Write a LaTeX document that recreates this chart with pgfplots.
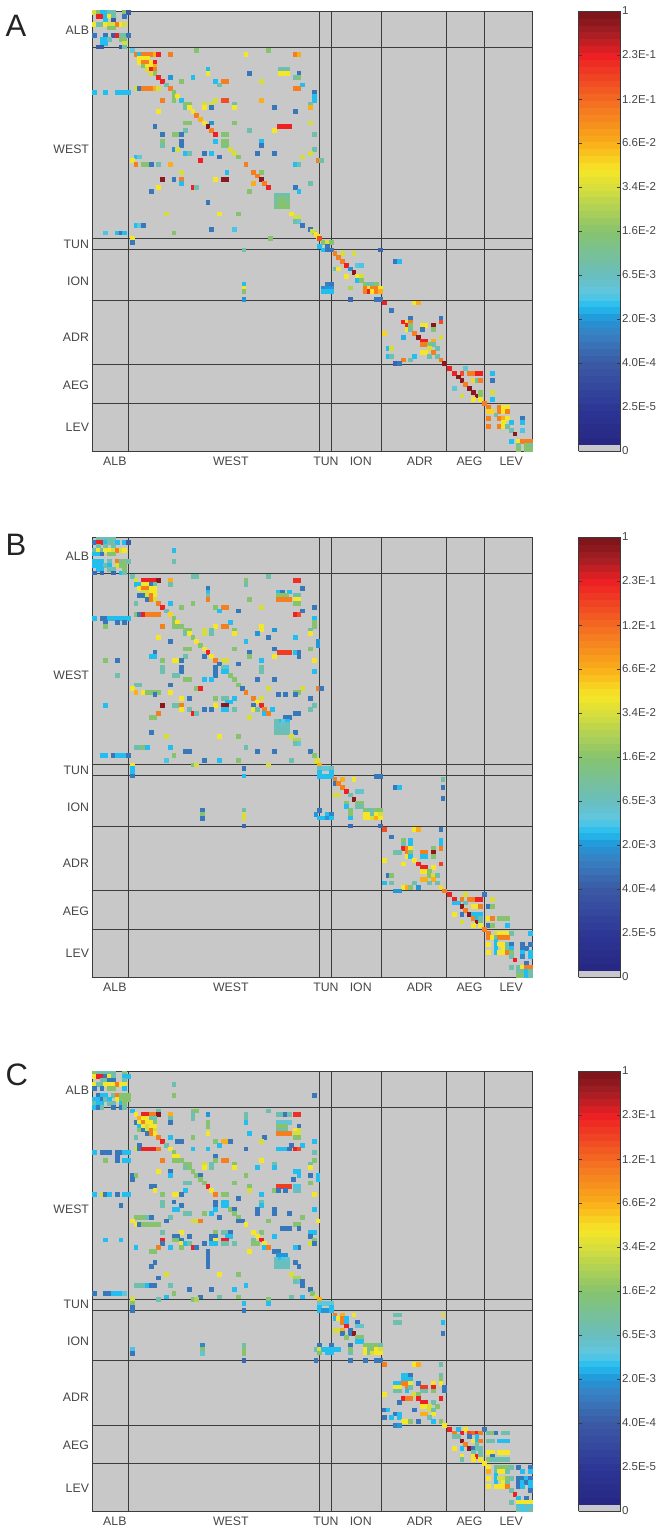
\documentclass[border=0pt]{standalone}
\usepackage{fontspec}
\setmainfont{Liberation Sans}
\usepackage{pgfplots}
\pgfplotsset{compat=1.18}
\usepackage{pgfplotstable}
\definecolor{txt}{RGB}{70,70,70}
\definecolor{bgg}{RGB}{200,200,200}
\definecolor{sep}{RGB}{60,60,60}
\pgfplotsset{
 colormap={basejet}{
  rgb255(0pt)=(200,200,204)
  rgb255(9pt)=(200,200,204)
  rgb255(10pt)=(38,38,130)
  rgb255(63pt)=(45,55,150)
  rgb255(126pt)=(60,90,165)
  rgb255(170pt)=(55,130,195)
  rgb255(189pt)=(35,150,215)
  rgb255(208pt)=(35,190,240)
  rgb255(227pt)=(95,200,225)
  rgb255(252pt)=(105,190,190)
  rgb255(315pt)=(135,195,110)
  rgb255(378pt)=(215,222,60)
  rgb255(403pt)=(245,230,40)
  rgb255(441pt)=(250,175,25)
  rgb255(504pt)=(243,105,34)
  rgb255(567pt)=(237,32,36)
  rgb255(598pt)=(165,30,35)
  rgb255(630pt)=(120,20,25)
 },
 panel/.style={
  scale only axis, width=439.5pt, height=440pt,
  anchor=north west,
  xmin=-0.5, xmax=115.5, ymin=-0.5, ymax=115.5, y dir=reverse,
  axis background/.style={fill=bgg},
  axis on top,
  axis line style={draw=sep, line width=0.9pt},
  colormap name=basejet,
  point meta min=0, point meta max=10,
  xtick={5.4,36,61.1,70.3,85.9,99,110},
  xticklabels={ALB,WEST,TUN,ION,ADR,AEG,LEV},
  ytick={4.5,35.9,61,70.7,85.5,98.1,109.2},
  yticklabels={ALB,WEST,TUN,ION,ADR,AEG,LEV},
  major tick length=0pt,
  tick label style={font=\fontsize{12.3}{14}\selectfont, text=txt},
  xticklabel style={yshift=-2pt},
  extra x ticks={9.1,59.5,62.45,75.8,92.8,102.9},
  extra y ticks={9.1,59.5,62.45,75.7,92.8,102.85},
  extra x tick labels={}, extra y tick labels={},
  extra tick style={grid=major, major grid style={draw=sep, line width=0.9pt}, major tick length=0pt},
  colorbar sampled,
  colorbar style={
   samples=65,
   at={(parent axis.north east)}, anchor=north west, xshift=38pt,
   width=42pt, height=440pt,
   ytick={0,1,2,3,4,5,6,7,8,9,10},
   yticklabels={0,2.5E-5,4.0E-4,2.0E-3,6.5E-3,1.6E-2,3.4E-2,6.6E-2,1.2E-1,2.3E-1,1},
   major tick length=3.5pt, tick align=inside, ytick pos=both, yticklabel pos=right,
   tick style={draw=sep, line width=0.5pt},
   axis line style={draw=sep, line width=0.9pt},
   tick label style={font=\fontsize{11.5}{13}\selectfont, text=txt},
   yticklabel style={xshift=-2pt},
  },
 },
 matcells/.style={scatter, only marks, mark=square*, mark size=1.9pt, point meta=\thisrow{c},
  scatter/use mapped color={draw=mapped color, fill=mapped color},
  mark options={line width=0pt}},
}
\begin{document}
\begin{tikzpicture}
\useasboundingbox (0pt,0pt) rectangle (664pt,-1533pt);
\node[anchor=base west,font=\fontsize{31}{31}\selectfont,text={rgb,255:red,35;green,35;blue,35}] at (2pt,-37pt) {A};
\node[anchor=base west,font=\fontsize{31}{31}\selectfont,text={rgb,255:red,35;green,35;blue,35}] at (2pt,-555pt) {B};
\node[anchor=base west,font=\fontsize{31}{31}\selectfont,text={rgb,255:red,35;green,35;blue,35}] at (2pt,-1085pt) {C};

%%%%%%%%%%%%%%% A
\begin{axis}[panel, at={(92.5pt,-11pt)}]
\addplot[matcells] table[row sep=\\]{
x y c\\
0 0 6\\ 1 0 5\\ 2 0 3.3\\ 3 0 3.3\\ 4 0 4.2\\ 5 0 4.2\\ 8 0 5\\ 9 0 2\\
1 1 9\\ 2 1 9\\ 3 1 3.3\\ 4 1 6.4\\ 5 1 4.2\\ 8 1 2.5\\
3 2 3.3\\ 5 2 2\\
0 3 6.4\\ 1 3 4.2\\ 2 3 4.2\\ 3 3 6.4\\ 4 3 6\\ 5 3 6\\ 6 3 7.7\\ 7 3 6.4\\ 8 3 6\\
4 4 5\\ 5 4 5\\
0 6 2.5\\ 3 6 2.5\\ 5 6 2\\ 6 6 9\\ 7 6 4.2\\ 8 6 4.2\\ 9 6 2.5\\
2 7 3.3\\ 3 7 3.3\\ 4 7 4.2\\ 7 7 5\\ 8 7 5\\
2 8 3.3\\ 3 8 3.3\\ 8 8 6\\
1 9 2\\ 2 9 2\\ 7 9 2\\ 8 9 4.2\\
10 10 3.7\\ 27 10 5\\ 46 10 5\\
11 11 7.7\\ 12 11 3.3\\ 13 11 7.7\\ 14 11 7.7\\ 15 11 7.7\\ 16 11 7\\ 17 11 9\\ 20 11 7.7\\ 40 11 6.4\\ 53 11 7.7\\ 54 11 7\\
12 12 6.4\\ 13 12 6.4\\ 14 12 6.4\\
12 13 6.4\\ 13 13 7.7\\ 14 13 7.7\\ 15 13 6.4\\ 16 13 9\\
13 14 5\\ 14 14 6.4\\ 15 14 6.4\\ 16 14 7\\
14 15 6\\ 15 15 9\\ 16 15 7.7\\ 30 15 3.3\\ 49 15 4.2\\ 50 15 4.2\\ 51 15 4.2\\
15 16 6\\ 16 16 5\\ 30 16 6.4\\ 41 16 2.5\\ 49 16 6.4\\ 50 16 6.4\\ 51 16 6.4\\ 54 16 2.5\\
17 17 9\\ 20 17 3\\ 26 17 3.3\\ 53 17 4.2\\ 54 17 5\\
18 18 9\\ 23 18 5\\ 32 18 3.3\\ 34 18 7.7\\ 35 18 7.7\\ 44 18 6\\
19 19 4.2\\ 33 19 4.2\\ 55 19 3.3\\
11 20 6\\ 12 20 2.5\\ 13 20 7.7\\ 14 20 7.7\\ 15 20 7.7\\ 16 20 7\\ 17 20 6\\ 20 20 7.7\\ 53 20 7.7\\ 54 20 7.7\\
0 21 3.3\\ 3 21 3.3\\ 6 21 3.3\\ 7 21 3.3\\ 8 21 3.3\\ 9 21 3.3\\ 21 21 5\\ 58 21 2.5\\
21 22 5\\ 22 22 6.4\\ 58 22 3.3\\
18 23 7.7\\ 21 23 5\\ 23 23 3.3\\ 32 23 6\\ 34 23 8.4\\ 35 23 8.4\\ 44 23 7\\ 58 23 3.3\\
24 24 5\\ 25 24 5\\ 29 24 6\\ 31 24 6\\ 37 24 4.2\\ 57 24 4.2\\
24 25 4.2\\ 25 25 6.4\\ 29 25 6.4\\ 31 25 2.5\\ 37 25 6.4\\ 47.5 25 2.5\\ 57 25 7\\
17 26 6.4\\ 26 26 6.4\\ 53 26 2.5\\
27 27 7.7\\ 28 28 7\\
24 29 5\\ 25 29 5\\ 29 29 6.4\\ 31 29 3\\ 37 29 5\\ 57 29 6\\
16 30 2.5\\ 30 30 9.8\\ 48.7 30 9\\ 49.7 30 9\\ 50.7 30 9\\ 51.5 30 9\\
24 31 4.2\\ 31 31 7.7\\ 41 31 4.2\\ 47.5 31 6.4\\
18 32 2.5\\ 21 32 5\\ 22 32 5\\ 23 32 2.5\\ 32 32 9\\ 34 32 5\\ 35 32 5\\ 58 32 4.2\\
18 34 5\\ 23 34 2.5\\ 32 34 3.3\\ 34 34 5\\ 35 34 5\\ 44 34 3.3\\
18 35 4.2\\ 23 35 2.5\\ 34 35 4.8\\ 35 35 4.8\\ 44 35 2.5\\
21 36 3\\ 22 36 6\\ 36 36 6\\ 58 36 4.2\\
24 37 3.3\\ 25 37 4.2\\ 29 37 2.5\\ 31 37 3.3\\ 37 37 6\\ 43 37 2.5\\ 47.5 37 2.5\\ 57 37 6\\
11 38 3.3\\ 12 38 3.7\\ 33 38 2.5\\ 38 38 5\\ 55 38 6\\
10 39 6.4\\ 28 39 9\\ 59 39 7.7\\ 60 39 4.2\\
11 40 7.7\\ 13 40 5\\ 14 40 5\\ 15 40 2.5\\ 17 40 4.2\\ 20 40 7\\ 40 40 7.7\\ 53 40 3.3\\ 54 40 4.2\\
23 42 6\\ 35 42 3.3\\ 42 42 7.7\\ 44 42 5\\
43 43 7.7\\
18 44 9.8\\ 21 44 2.5\\ 23 44 7.7\\ 32 44 6.4\\ 34 44 9.8\\ 35 44 9.8\\ 44 44 9.8\\
23 45 3.3\\ 42 45 7\\ 45 45 7.7\\ 57 45 4.2\\
17 46 6.4\\ 26 46 9\\ 27 46 4.2\\ 46 46 9\\ 53 46 2.5\\
15 47 2.5\\ 41 47 5\\ 54 47 3.3\\
48 48 4.2\\ 49 48 4.2\\ 50 48 4.2\\ 51 48 4.2\\
48 49 4.4\\ 49 49 4.8\\ 50 49 4.8\\ 51 49 4.6\\
48 50 4.4\\ 49 50 5\\ 50 50 5\\ 51 50 4.6\\ 30 50 2.5\\
48 51 4.6\\ 49 51 5\\ 50 51 5\\ 51 51 5\\
19 53 6\\ 33 53 6.4\\ 38 53 5\\ 52 53 6.4\\
53 54 6\\ 54 54 6\\
53 55 4.2\\ 54 55 3.7\\
11 56 3.3\\ 12 56 3.7\\ 13 56 2.5\\ 55 56 2.5\\
31 57 2.5\\ 37 57 3.5\\ 57 57 2.5\\
3 58 3.5\\ 6 58 3.3\\ 7 58 2.5\\ 8 58 3.3\\ 21 58 5\\ 58 58 5.5\\
59 59 6.4\\
10 59.5 6.4\\ 46.5 59.4 5\\
10 60.5 2.5\\ 39.5 62.5 4.2\\ 39.5 71.5 3.3\\ 39.5 72.5 6.4\\ 39.5 73.5 5\\ 39.5 75.5 3\\
57.5 57.5 6\\ 58.5 58.5 6.4\\ 59.5 59.5 8.4\\
60.5 60.5 5\\ 61.5 60.5 6\\ 62.5 60.5 5\\ 59.5 61.5 3.3\\ 61.5 61.5 2.5\\ 60.5 62.5 3.3\\ 61.5 62.5 2.5\\ 62.5 62.5 2.5\\ 75.5 62.5 2.2\\
63.5 63.5 7.7\\ 65.5 63.5 6\\ 68.5 63.5 6\\ 64.5 64.5 7.7\\ 65.5 65.5 7.7\\ 79.5 65.5 2.5\\ 80.5 65.5 3.3\\
66.5 66.5 9\\ 69.5 66.5 3.7\\ 70.5 66.5 3.5\\ 63.5 67.5 4.2\\ 64.5 67.5 6.4\\ 67.5 67.5 3\\ 68.5 68.5 9.8\\
66.5 69.5 6.4\\ 69.5 69.5 6.4\\ 70.5 69.5 6\\ 69.5 70.5 3.3\\ 70.5 70.5 5\\
61.5 71.5 2.7\\ 62.5 71.5 2.5\\ 71.5 71.5 5\\ 72.5 71.5 4.2\\ 73.5 71.5 4.2\\ 74.5 71.5 5\\
60.5 72.5 2.8\\ 61.5 72.5 3\\ 62.5 72.5 3\\ 67.5 72.5 5.5\\ 71.5 72.5 7.7\\ 72.5 72.5 6.4\\ 73.5 72.5 7.7\\ 74.5 72.5 7.7\\ 75.5 72.5 6.4\\
60.5 73.5 3.3\\ 61.5 73.5 3.3\\ 62.5 73.5 3.3\\ 71.5 73.5 7.7\\ 72.5 73.5 9\\ 73.5 73.5 6.4\\ 74.5 73.5 7.7\\ 75.5 73.5 7\\
67.5 75.5 2.3\\ 74.5 75.5 2.5\\ 75.5 75.5 2.5\\ 76.5 76.5 9\\ 84.5 76.5 6.4\\ 85.5 76.5 7\\ 78.5 78.5 2.5\\
83.5 80.5 2.5\\ 91.5 80.5 2.5\\ 81.5 81.5 9\\ 82.5 81.5 6.4\\ 83.5 81.5 7.7\\ 91.5 81.5 8.4\\
82.5 82.5 9\\ 83.5 82.5 5\\ 86.5 82.5 6.4\\ 87.5 82.5 6.4\\ 89.5 82.5 9.8\\
82.5 83.5 6.4\\ 83.5 83.5 4.2\\ 86.5 83.5 2.5\\ 89.5 83.5 5\\
84.5 84.5 7.7\\ 76.5 84.5 6.6\\
81.5 85.5 3.2\\ 85.5 85.5 9.8\\ 91.5 85.5 6\\
86.5 86.5 9\\ 87.5 86.5 9\\ 89.5 86.5 7\\
86.5 87.5 7.7\\ 87.5 87.5 7.7\\ 88.5 87.5 5\\ 89.5 87.5 4.2\\
77.5 88.5 3.3\\ 78.5 88.5 6\\ 88.5 88.5 6\\ 90.5 88.5 4.2\\
86.5 89.5 6.4\\ 87.5 89.5 6.4\\ 89.5 89.5 7.7\\
77.5 90.5 3.3\\ 78.5 90.5 4.2\\ 84.5 90.5 3.3\\ 88.5 90.5 4.2\\ 90.5 90.5 4.2\\
81.5 91.5 7.7\\ 83.5 91.5 4.2\\ 91.5 91.5 7.7\\
79.5 92.5 2.2\\ 80.5 92.5 2.5\\ 92.5 92.5 9.8\\
93.7 93.7 9\\ 98 93.7 3.7\\
95 95 9\\ 97 95 8.4\\ 99 95 7.7\\ 100 95 7.7\\ 101 95 9\\ 102 95 9\\ 105 95 3.3\\
96 96 9.8\\ 97 97 9.8\\ 100 97 6.6\\ 101 97 4.2\\ 102 97 7.7\\ 105 97 2.5\\
98 98 7.7\\ 95 99 3.7\\ 99 99 9.8\\
100 100 9.8\\ 102 100 5\\ 105 100 6\\
97 101 6\\ 101 101 9.8\\ 102 101 5\\
100 102 6.4\\ 102 102 6.4\\ 105 102 3.3\\
103 103 7.7\\
104 104 7.7\\ 107 104 7.7\\ 108 104 6.4\\ 109 104 6.4\\
104 105 6.6\\ 105 105 6.6\\ 107 105 7.7\\ 108 105 6.4\\ 109 105 7.7\\
106 106 4.2\\
104 107 7.7\\ 107 107 7.7\\ 108 107 7\\ 109 107 6.4\\ 113 107 2.5\\
108 108 6.4\\ 110 108 3.3\\ 113 108 3.3\\
104 109 7.7\\ 107 109 7.7\\ 108 109 6.4\\ 109 109 4.2\\
110 110 4.2\\ 113 110 3.5\\
111 111 9.8\\
110 113 3.3\\ 112 113 6.4\\ 113 113 7.7\\ 114 113 7.7\\ 115 113 7.7\\
112 114 4.5\\ 114 114 5\\ 115 114 4.5\\
112 115 5\\ 114 115 5\\ 115 115 5\\
};
\end{axis}

%%%%%%%%%%%%%%% B
\begin{axis}[panel, at={(92.5pt,-537pt)}]
\addplot[matcells] table[row sep=\\]{
x y c\\
1 0 4.2\\ 2 0 4.2\\ 3 0 4.2\\ 4 0 4.2\\ 5 0 4.2\\
0 1 2.5\\ 1 1 9\\ 2 1 9\\ 3 1 3.3\\ 4 1 4.2\\ 5 1 4.2\\ 6 1 3.3\\ 8 1 3.3\\ 9 1 2\\
1 2 4.2\\ 3 2 4.2\\ 5 2 4.2\\
0 3 4.2\\ 1 3 6.4\\ 2 3 4.2\\ 3 3 6.4\\ 4 3 6.4\\ 5 3 6\\ 6 3 7.7\\ 7 3 6\\ 8 3 6.4\\ 21 3 3.3\\
0 4 3.3\\ 1 4 3.3\\ 2 4 2.5\\ 4 4 5\\ 5 4 5\\
0 6 3.3\\ 1 6 3.3\\ 2 6 3.3\\ 4 6 4.2\\ 6 6 7.7\\ 7 6 4.2\\ 8 6 5\\ 9 6 4.2\\ 21 6 4.2\\
0 7 3.3\\ 1 7 3.3\\ 2 7 3.3\\ 3 7 4.2\\ 4 7 3.3\\ 6 7 6\\ 7 7 5\\ 8 7 5\\
1 8 3.3\\ 2 8 3.3\\ 4 8 4.2\\ 5 8 4.2\\ 8 8 5\\
0 9 2.3\\ 2 9 2.3\\ 5 9 2.3\\ 7 9 3.3\\ 8 9 4.2\\
10 10 4.2\\ 26 10 4.2\\ 27 10 4.2\\ 46 10 4.2\\
11 11 6\\ 13 11 9\\ 14 11 9\\ 15 11 9\\ 16 11 9\\ 17 11 9.8\\ 20 11 7\\ 40 11 5\\ 53 11 8.8\\ 54 11 8.8\\
11 12 3.3\\ 12 12 3.3\\ 13 12 6.4\\ 14 12 6.4\\ 15 12 2.5\\ 16 12 4.2\\ 20 12 4.2\\ 40 12 4.2\\
12 13 6.4\\ 13 13 7.7\\ 14 13 7.7\\ 15 13 6.4\\ 16 13 6.4\\ 30 13 2.5\\ 55 13 2.5\\
13 14 6\\ 14 14 6\\ 15 14 6.4\\ 16 14 6.4\\ 30 14 3.3\\ 48.6 14 3.3\\ 49.6 14 2.5\\ 51.5 14 3.3\\
12 15 2.5\\ 13 15 2.5\\ 14 15 6\\ 15 15 7.7\\ 16 15 6.4\\ 30 15 4.2\\ 48.6 15 5\\ 49.6 15 5\\ 50.6 15 5\\ 53 15 4.2\\ 54 15 4.2\\
14 16 2.5\\ 15 16 7.7\\ 16 16 6\\ 30 16 7.7\\ 41 16 5\\ 48.6 16 7.7\\ 49.6 16 7.7\\ 50.6 16 7.7\\ 51.5 16 7.7\\ 53 16 6.4\\ 54 16 6.4\\
11 17 4.2\\ 17 17 7.7\\ 20 17 3.3\\ 26 17 5\\ 53 17 5\\ 54 17 5\\
18 18 9\\ 23 18 5\\ 32 18 5\\ 34 18 7.7\\ 35 18 7.7\\ 44 18 6\\ 58 18 2.5\\
19 19 4.2\\ 33 19 3.3\\ 38 19 2.5\\ 55 19 2.5\\
11 20 5\\ 12 20 2.5\\ 13 20 9\\ 14 20 7.7\\ 15 20 7.7\\ 16 20 7.7\\ 17 20 7.7\\ 20 20 6.6\\ 53 20 9\\ 54 20 8.4\\
0 21 3.3\\ 2 21 2.5\\ 3 21 2.5\\ 4 21 3.3\\ 5 21 3.3\\ 6 21 3.3\\ 7 21 3.3\\ 8 21 3.3\\ 9 21 3.3\\ 21 21 5\\ 58 21 3.3\\
3 22 2.5\\ 6 22 2.5\\ 8 22 2.5\\ 21 22 5\\ 22 22 6.4\\ 36 22 3.3\\ 58 22 5\\
3 23 5\\ 18 23 7.7\\ 21 23 5\\ 22 23 5\\ 23 23 5\\ 32 23 6.4\\ 34 23 7.7\\ 35 23 7.7\\ 44 23 6.4\\ 58 23 5\\
24 24 5\\ 25 24 5\\ 29 24 6\\ 31 24 4.2\\ 37 24 5\\ 44 24 6.4\\ 47.5 24 3\\ 57 24 4.2\\
24 25 4.2\\ 25 25 6.4\\ 29 25 6\\ 31 25 4.2\\ 37 25 6.4\\ 43 25 3\\ 57 25 6.4\\
17 26 6.4\\ 26 26 5\\ 46 26 2.5\\ 53 26 3.3\\
20 27 2.5\\ 27 27 6.4\\ 40 27 3.3\\ 59 27 3\\
28 28 5\\ 59 28 3\\
24 29 5\\ 25 29 5\\ 29 29 6.4\\ 37 29 5\\ 47.5 29 2.5\\ 57 29 5\\
16 30 2.5\\ 30 30 9\\ 41 30 2.5\\ 48.8 30 8.6\\ 49.8 30 8.6\\ 50.8 30 8.6\\ 51.6 30 8.6\\ 53 30 3.3\\ 54 30 2.5\\
15 31 3.3\\ 16 31 3.3\\ 24 31 4.2\\ 29 31 2.5\\ 31 31 6.4\\ 41 31 5\\ 47.5 31 6.4\\ 54 31 2.5\\
3 32 5\\ 6 32 2.5\\ 18 32 5\\ 21 32 6.4\\ 22 32 6.4\\ 23 32 2.5\\ 32 32 7.7\\ 34 32 6\\ 35 32 6\\ 44 32 3.3\\ 58 32 6.4\\
33 33 2.5\\ 38 33 2.5\\
18 34 4.2\\ 23 34 2.5\\ 32 34 2.5\\ 34 34 4.2\\ 35 34 3.5\\ 44 34 4.2\\
18 35 4.2\\ 23 35 2.5\\ 32 35 2.5\\ 34 35 3.3\\ 35 35 3.3\\ 44 35 4.2\\ 58 35 3.3\\
6 36 4.2\\ 21 36 4.2\\ 22 36 4.2\\ 32 36 2.5\\ 36 36 5\\
24 37 5\\ 25 37 5\\ 29 37 3.3\\ 31 37 3.3\\ 37 37 5\\ 43 37 2.5\\ 47.5 37 2.5\\
11 38.5 4.2\\ 12 38.5 4.2\\ 20 38.5 2.5\\ 38 38.5 5\\
10 39.5 6.4\\ 27 39.5 5\\ 28 39.5 9\\ 39 39.5 2.5\\ 46 39.5 6\\ 55 39.5 6\\ 59 39.5 7.7\\ 60 39.5 2.5\\
11 40.5 7\\ 13 40.5 6.4\\ 14 40.5 5\\ 15 40.5 5\\ 16 40.5 5\\ 17 40.5 5\\ 20 40.5 6.4\\ 40 40.5 7.7\\ 53 40.5 5\\ 54 40.5 5\\
16 41 2.5\\ 48.5 41 2.5\\ 50.5 41 2.5\\ 53 41 2.5\\
23 42 6.4\\ 25 42 2.5\\ 32 42 5\\ 34 42 4.2\\ 35 42 4.2\\ 37 42 3.3\\ 42 42 7.7\\ 44 42 6\\ 57 42 2.5\\
35 43 3.3\\ 36 43 3.3\\ 43 43 6.4\\
3 44 3.3\\ 18 44 9.8\\ 21 44 4.2\\ 22 44 4.2\\ 23 44 7.7\\ 32 44 6.4\\ 34 44 9.8\\ 35 44 9.8\\ 42 44 2.5\\ 44 44 9\\ 58 44 4.2\\
23 45 6.4\\ 25 45 4.2\\ 29 45 2.5\\ 31 45 2.5\\ 34 45 3.3\\ 35 45 3.3\\ 37 45 4.2\\ 42 45 6.4\\ 43 45 4.2\\ 45 45 7.7\\ 47 45 3.3\\ 57 45 4.2\\
17 46 7.7\\ 26 46 9\\ 27 46 4.2\\ 45 46 3.3\\ 46 46 7.7\\ 53 46 2.5\\ 54 46 2.5\\
15 47 5\\ 16 47 5\\ 41 47 6\\ 50.5 47 2.5\\ 51.5 47 2.5\\
49 48 3.3\\ 50 48 3.7\\ 51 48 3.3\\ 48 48 4.2\\
48 49 4\\ 49 49 4\\ 50 49 3.8\\ 51 49 4\\
48 50 4\\ 49 50 4\\ 50 50 4\\ 51 50 4\\
48 51 4.2\\ 49 51 4.2\\ 50 51 4.2\\ 51 51 4.2\\ 15 51 2.5\\ 53 51 2.5\\
19 52 6\\ 33 52 6.4\\ 38 52 5\\ 52 52 6\\
53 53 5.5\\ 54 53 5.5\\
53 54 4.2\\ 54 54 3.7\\
11 55 4.2\\ 12 55 4.2\\ 13 55 5\\ 14 55 3.3\\ 20 55 3.3\\ 40 55 4.2\\
24 56 2.5\\ 25 56 2.5\\ 43 56 2.5\\ 47.5 56 2.5\\ 57 56 2.5\\
2 57 3.3\\ 3 57 3.3\\ 5 57 2.5\\ 6 57 3.3\\ 7 57 3.3\\ 8 57 3.3\\ 9 57 2.5\\ 21 57 5\\ 58 57 5\\
19 58.5 3.5\\ 29 58.5 2.5\\ 33 58.5 3.3\\ 38 58.5 5\\ 52 58.5 4.2\\ 59 58.5 6\\
10 59.6 6.4\\ 26 59.6 5\\ 27 59.6 6\\ 46 59.6 6\\
10 60.6 3.3\\ 10 61.5 3.3\\ 10 62.5 2.5\\ 39.5 60.5 2.5\\ 39.5 62.5 3.3\\
28.5 71.7 2.5\\ 28.5 72.7 5\\ 28.5 73.7 2.5\\ 39.5 71.7 4.2\\ 39.5 72.7 6\\ 39.5 73.7 6\\ 39.5 75.7 2.2\\
58.5 58.6 6\\ 59.5 59.7 7\\
59.5 60.5 4\\ 60.5 60.5 3.7\\ 61.5 60.5 3.7\\ 62.5 60.5 4\\ 59.5 61.6 3.3\\ 62.5 61.6 3.3\\ 59.5 62.6 3.3\\ 60.5 62.6 3.3\\ 61.5 62.6 3.3\\ 62.5 62.6 3.3\\
74.5 62.6 2.5\\ 75.5 62.6 2.5\\
63.5 63.5 7.7\\ 65.5 63.5 7\\ 68.5 63.5 6.4\\ 92 63.5 4.2\\
63.5 64.5 2.5\\ 64.5 64.5 7.7\\ 65.5 65.5 7.7\\ 79.5 65.5 2.5\\ 80.5 65.5 3.3\\ 92 65.5 2.5\\ 92 68.5 2.5\\
66.5 66.5 9\\ 69.5 66.5 3.8\\ 70.5 66.5 3.8\\
63.5 67.5 6\\ 64.5 67.5 6\\ 67.5 67.5 4.2\\ 68.5 68.6 9.8\\
66.5 69.6 5\\ 69.5 69.6 5\\ 70.5 69.6 5\\ 66.5 70.6 3.3\\ 69.5 70.6 4.2\\ 70.5 70.6 4.2\\
59.5 71.6 2.5\\ 67.5 71.6 5\\ 71.5 71.6 5\\ 72.5 71.6 4.2\\ 73.5 71.6 4.2\\ 74.5 71.6 5\\ 75.5 71.6 5\\
58.5 72.6 3\\ 61.5 72.6 3.3\\ 62.5 72.6 2.7\\ 67.5 72.6 5\\ 71.5 72.6 6.4\\ 72.5 72.6 6.4\\ 73.5 72.6 4.2\\ 74.5 72.6 6.4\\ 75.5 72.6 6\\
59.5 73.6 3.3\\ 60.5 73.6 3.3\\ 61.5 73.6 3\\ 62.5 73.6 3.3\\ 67.5 73.6 3.3\\ 71.5 73.6 6.4\\ 72.5 73.6 6.4\\ 73.5 73.6 6\\ 74.5 73.6 7\\ 75.5 73.6 6.4\\
67.5 75.7 2.3\\ 75.5 75.7 2.3\\
76.5 76.6 8.4\\ 84.5 76.6 6.4\\ 85.5 76.6 7\\ 91.5 76.6 2.5\\ 78.5 78.6 2.5\\
81.5 79.6 5\\ 83.5 79.6 3.3\\ 91.5 79.6 3.3\\ 81.5 80.6 4.2\\ 83.5 80.6 3.3\\ 91.5 80.6 3.3\\
81.5 81.7 9\\ 82.5 81.7 7.7\\ 83.5 81.7 6.4\\ 89.5 81.7 5\\ 91.5 81.7 7.7\\
79.5 82.7 4.2\\ 80.5 82.7 4.2\\ 82.5 82.7 7.7\\ 83.5 82.7 5\\ 86.5 82.7 7.7\\ 87.5 82.7 7.7\\ 89.5 82.7 9.8\\
82.5 83.7 6.4\\ 83.5 83.7 3.3\\ 86.5 83.7 3.3\\ 87.5 83.7 3.3\\ 89.5 83.7 5\\
76.5 84.7 6.4\\ 84.5 84.7 6.4\\
81.5 85.7 6.4\\ 85.5 85.7 9\\ 91.5 85.7 8.6\\
86.5 86.7 9\\ 87.5 86.7 9\\ 89.5 86.7 6.4\\
86.5 87.7 6.4\\ 87.5 87.7 6.4\\ 88.5 87.7 5\\
77.5 88.7 2.5\\ 78.5 88.7 5\\ 88.5 88.7 5\\ 89.5 88.7 6\\ 90.5 88.7 4.2\\
86.5 89.8 7\\ 87.5 89.8 7\\ 89.5 89.8 7\\
76.5 90.7 3.3\\ 78.5 90.7 4.2\\ 84.5 90.7 4.2\\ 88.5 90.7 4.2\\ 90.5 90.7 4.2\\
81.5 91.8 6.4\\ 82.5 91.8 7\\ 83.5 91.8 5\\ 85.5 91.8 3\\ 91.5 91.8 6.5\\
79.5 92.8 3\\ 80.5 92.8 3\\ 92.5 92.8 7.7\\
93.7 93.8 9\\ 98 93.8 6\\ 103 93.8 2.5\\
95 95 9\\ 97 95 7.7\\ 99 95 7.7\\ 100 95 7.7\\ 101 95 9\\ 102 95 9\\ 105 95 6\\
95 96 3.3\\ 96 96 3.3\\ 98 96 4.2\\
97 97 9.8\\ 100 97 6.4\\ 101 97 6.4\\ 102 97 7.7\\ 104 97 2.5\\ 105 97 5\\
98 98 7.7\\
95 99 6.4\\ 97 99 2.5\\ 99 99 9.8\\ 100 99 3.3\\ 101 99 3.3\\ 102 99 3.3\\
100 100 7.7\\ 101 100 3.3\\ 102 100 4.2\\ 104 100 6.4\\ 105 100 7.7\\ 107 100 5\\ 108 100 5\\ 109 100 5\\
97 101 6\\ 101 101 9.8\\ 102 101 4.2\\
100 102 6.4\\ 102 102 6.4\\ 104 102 2.5\\ 105 102 5\\ 109 102 3.3\\
103 103 7.7\\
104 104 7.7\\ 106 104 6\\ 107 104 6.4\\ 108 104 6.4\\ 109 104 6.4\\ 110 104 4.2\\ 115 104 3.3\\
104 105 7.7\\ 105 105 6.4\\ 106 105 4.2\\ 107 105 7.7\\ 108 105 7.7\\ 109 105 7.7\\
106 106 3.3\\
104 107 6.4\\ 106 107 3.3\\ 107 107 6.4\\ 108 107 6.4\\ 109 107 4.2\\ 110 107 2.5\\ 113 107 2.5\\ 115 107 2.5\\
106 108 3.3\\ 108 108 6.4\\ 109 108 4.2\\ 110 108 3.3\\ 113 108 2.5\\ 114 108 2.5\\
104 109 6.4\\ 106 109 3.3\\ 107 109 6.4\\ 108 109 6.4\\ 109 109 7.7\\ 110 109 5\\ 113 109 3.3\\ 115 109 3.3\\
110 110 4.2\\ 113 110 2.8\\ 115 110 3.3\\
111 111 9\\ 114 112 2.5\\
110 113 4.2\\ 112 113 4.2\\ 113 113 6.4\\ 114 113 7.7\\ 115 113 7.7\\
112 114 4.2\\ 113 114 4.2\\ 114 114 3.3\\ 115 114 4.2\\
112 115 5\\ 113 115 5\\ 114 115 3.3\\ 115 115 4.2\\
};
\end{axis}

%%%%%%%%%%%%%%% C
\begin{axis}[panel, at={(92.5pt,-1071pt)}, height=440.7pt]
\addplot[matcells] table[row sep=\\]{
x y c\\
0 0 5\\ 1 0 4.2\\ 2 0 4.2\\ 3 0 4.2\\ 4 0 4.2\\ 5 0 4.2\\ 8 0 5\\
0 1 6.4\\ 1 1 9\\ 2 1 9\\ 3 1 2.5\\ 4 1 6.4\\ 5 1 4.2\\ 8 1 3.3\\ 9 1 3.3\\
2 2 4.2\\ 3 2 4.2\\ 4 2 2.5\\ 5 2 2.5\\ 8 2 4.2\\
0 3 6.4\\ 1 3 4.2\\ 2 3 4.2\\ 3 3 6.4\\ 4 3 6.4\\ 5 3 6.4\\ 6 3 7.7\\ 7 3 6.4\\ 8 3 6.4\\ 21 3 4.2\\
0 4 2.5\\ 2 4 2.5\\ 4 4 5\\ 5 4 5\\ 8 4 3.3\\
1 6 2.5\\ 2 6 3.3\\ 3 6 3.3\\ 5 6 4.2\\ 6 6 7.7\\ 7 6 5\\ 8 6 5\\ 9 6 5\\ 21 6 5\\ 58 6 2.5\\
0 7 3.3\\ 1 7 3.3\\ 2 7 2.5\\ 3 7 4.2\\ 4 7 3.3\\ 6 7 6.4\\ 7 7 5\\ 8 7 5\\ 9 7 5\\
0 8 4.2\\ 1 8 3.3\\ 2 8 3.3\\ 4 8 4.2\\ 5 8 4.2\\ 7 8 3.3\\ 8 8 5\\
0 9 3.3\\ 1 9 2.5\\ 2 9 4.2\\ 5 9 2.5\\ 7 9 2.5\\ 8 9 4.2\\
10 10 3.3\\ 17 10 4.2\\ 26 10 5\\ 27 10 5\\ 46 10 4.2\\
11 11 6.4\\ 13 11 9\\ 14 11 9\\ 15 11 7.7\\ 16 11 7.7\\ 17 11 9.8\\ 20 11 7\\ 26 11 4.2\\ 30 11 3\\ 40 11 4.2\\ 48.5 11 4.2\\ 49.5 11 4.2\\ 50.5 11 2.5\\ 51.5 11 4.2\\ 53 11 8.8\\ 54 11 8.8\\
12 12 7\\ 13 12 6.4\\ 14 12 6.4\\ 15 12 4.2\\ 16 12 4.2\\ 20 12 4.2\\ 26 12 4.2\\ 40 12 4.2\\
11 13 2.5\\ 12 13 6.4\\ 13 13 7.7\\ 14 13 6.4\\ 15 13 6.4\\ 16 13 5\\ 20 13 2.5\\ 30 13 5\\ 40 13 3.3\\ 48.5 13 3.8\\ 49.5 13 3.8\\ 50.5 13 3.8\\ 51.5 13 3.8\\
12 14 3.3\\ 13 14 6.4\\ 14 14 6\\ 15 14 6.4\\ 16 14 6.4\\ 30 14 5\\ 48.5 14 5\\ 49.5 14 5\\ 50.5 14 5\\ 54 14 2.5\\
12 15 5\\ 13 15 2.5\\ 14 15 6\\ 15 15 7.7\\ 16 15 6\\ 48.5 15 4.2\\ 49.5 15 4.2\\ 50.5 15 4.2\\ 53 15 6.4\\ 54 15 6\\
14 16 2.5\\ 15 16 7.7\\ 16 16 6.4\\ 30 16 6.4\\ 41 16 3.3\\ 48.5 16 7.7\\ 49.5 16 7.7\\ 50.5 16 7.7\\ 51.5 16 7.7\\ 53 16 6\\ 54 16 6\\
11 17 4.2\\ 17 17 7.7\\ 20 17 3.3\\ 26 17 5\\ 45 17 2.5\\ 53 17 5\\ 54 17 5\\
18 18 9\\ 22 18 2.5\\ 23 18 2.5\\ 32 18 5\\ 34 18 7\\ 35 18 7\\ 36 18 2.5\\ 44 18 6\\ 58 18 3.3\\
12 19 2.5\\ 19 19 4.2\\ 33 19 3.3\\ 52 19 2.5\\ 55 19 3.3\\
11 20 6\\ 12 20 2.5\\ 13 20 9\\ 14 20 9\\ 15 20 9\\ 16 20 9\\ 17 20 7.7\\ 20 20 6.4\\ 26 20 3.3\\ 30 20 3.3\\ 40 20 2.5\\ 48.5 20 3.3\\ 49.5 20 3.3\\ 50.5 20 3.3\\ 51.5 20 2.5\\ 53 20 9\\ 54 20 8.4\\
0 21 3.3\\ 2 21 2.5\\ 3 21 2.5\\ 4 21 2.5\\ 6 21 2.5\\ 7 21 2.5\\ 8 21 3.3\\ 9 21 3.3\\ 21 21 5\\ 58 21 4.2\\
6 22 2.5\\ 21 22 6.4\\ 22 22 6.4\\ 32 22 2.5\\
3 23 5\\ 6 23 2.5\\ 8 23 3.3\\ 9 23 3.3\\ 18 23 7.7\\ 21 23 5\\ 22 23 5\\ 23 23 5\\ 32 23 5\\ 34 23 7.7\\ 35 23 7.7\\ 44 23 6.4\\ 58 23 5\\
24 24 5\\ 25 24 5\\ 29 24 6\\ 31 24 4.2\\ 37 24 5\\ 47.5 24 4.2\\ 57 24 4.2\\
24 25 4.2\\ 25 25 5\\ 29 25 6.4\\ 31 25 4.2\\ 37 25 6.4\\ 43 25 3.3\\ 47.5 25 3.3\\ 57 25 6.4\\
17 26 6.4\\ 20 26 2.5\\ 26 26 5\\ 53 26 3.3\\ 54 26 3.3\\
10 27 2.5\\ 11 27 5\\ 20 27 3.3\\ 27 27 5\\ 28 27 2.5\\ 40 27 5\\ 54 27 3.3\\ 57 27 2.5\\ 59 27 3.3\\
10 28 2.5\\ 28 28 5\\ 52.5 28 2.5\\ 59 28 3.3\\
24 29 4.2\\ 25 29 4.2\\ 29 29 5\\ 37 29 5\\ 57 29 5\\
15 30 2.5\\ 16 30 2.5\\ 30 30 9\\ 41 30 5\\ 48.5 30 8.6\\ 49.5 30 8.6\\ 50.5 30 8.6\\ 51.5 30 8.6\\ 53 30 3.5\\ 54 30 3.5\\
16 31 6.4\\ 24 31 3.3\\ 31 31 6.4\\ 41 31 6\\ 47.5 31 5\\ 48.5 31 2.5\\ 50.5 31 2.5\\ 53 31 4\\ 54 31 4\\
0 32 3.3\\ 2 32 6\\ 3 32 2.5\\ 4 32 3.3\\ 6 32 2.5\\ 8 32 3.3\\ 9 32 3.3\\ 18 32 5\\ 21 32 6.4\\ 22 32 6.4\\ 23 32 2.5\\ 32 32 7.7\\ 34 32 5\\ 35 32 5\\ 44 32 3.3\\ 58 32 6.4\\
38 33 2.5\\
18 34 4.2\\ 21 34 2.5\\ 32 34 2.5\\ 34 34 3.3\\ 35 34 3.3\\ 44 34 4.2\\
7 35 2.5\\ 18 35 4.2\\ 23 35 2.5\\ 32 35 2.5\\ 34 35 3.3\\ 35 35 3.3\\ 44 35 3.3\\
21 36 3.3\\ 22 36 3.3\\ 32 36 3.3\\ 36 36 5\\ 37 36 2.5\\ 43 36 2.5\\ 47.5 36 2.5\\ 58 36 3.3\\
24 37 4.2\\ 25 37 4.2\\ 29 37 5\\ 31 37 3.3\\ 37 37 5\\ 43 37 2.5\\ 47.5 37 2.5\\ 51.5 37 2.5\\
11 38 5\\ 12 38 5\\ 13 38 5\\ 14 38 4.2\\ 15 38 2.5\\ 20 38 4.2\\ 33 38 2.5\\ 38 38 5\\ 55 38 5\\
10 39 6.4\\ 19 39 2.5\\ 26 39 6\\ 27 39 6\\ 28 39 7.7\\ 38 39 2.5\\ 39 39 2.5\\ 46 39 5\\ 59 39 6.4\\
11 40 6.4\\ 12 40 2.5\\ 13 40 5\\ 14 40 5\\ 15 40 5\\ 16 40 5\\ 17 40 5\\ 40 40 6.4\\ 53 40 5\\ 54 40 5\\
49.5 41 2.5\\ 50.5 41 2.5\\ 51.5 41 2.5\\ 54 41 2.5\\
18 42 4.2\\ 23 42 6.4\\ 32 42 5\\ 34 42 4.2\\ 35 42 4.2\\ 36 42 2.5\\ 42 42 6.4\\ 44 42 5\\ 57 42 3.3\\ 58 42 3.3\\
21 43 2.5\\ 22 43 2.5\\ 25 43 2.5\\ 31 43 2.5\\ 32 43 2.5\\ 35 43 3.3\\ 36 43 3.3\\ 43 43 6.4\\ 47.5 43 3.3\\ 57 43 2.5\\
3 44 3.3\\ 7 44 3.3\\ 18 44 9\\ 21 44 5\\ 22 44 5\\ 23 44 2.5\\ 31 44 2.5\\ 32 44 6.4\\ 34 44 9\\ 35 44 9\\ 42 44 4.2\\ 44 44 9\\ 58 44 5\\
18 45 2.5\\ 23 45 6.4\\ 24 45 3.3\\ 25 45 4.2\\ 29 45 2.5\\ 31 45 3.3\\ 32 45 3.3\\ 34 45 4.2\\ 35 45 4.2\\ 37 45 4.2\\ 42 45 5\\ 43 45 5\\ 45 45 6.4\\ 57 45 6\\ 58 45 2.5\\
11 46 3.3\\ 17 46 7.7\\ 20 46 3.3\\ 23 46 5\\ 26 46 9\\ 27 46 2.5\\ 45 46 3.3\\ 46 46 7.7\\ 54 46 2.5\\ 53 46 3.3\\
15 47 5\\ 16 47 5\\ 30 47 2.5\\ 41 47 6.4\\ 47.5 47 2.5\\ 48.5 47 2.5\\
48.5 48 3\\ 49.5 48 3\\ 50.5 48 3\\ 30 48 2.5\\
48 49 4\\ 49 49 3.3\\ 50 49 3.5\\ 51 49 3.8\\ 30 49 2.5\\
48 50 4\\ 49 50 4\\ 50 50 4\\ 51 50 4\\ 16 50 2.5\\ 30 50 2.5\\ 53 50 2.5\\
48 51 4\\ 49 51 4\\ 50 51 4\\ 51 51 4\\ 15 51 2.5\\ 30 51 2.5\\ 54 51 2.5\\
19 53 6\\ 33 53 6.4\\ 38 53 5\\ 52 53 6\\
17 54 2.5\\ 53 54 5.5\\ 54 54 5.5\\
53 55 4.2\\ 54 55 3.7\\ 55 55 2.5\\
11 56 4.2\\ 12 56 4.2\\ 13 56 4.2\\ 14 56 3.3\\ 15 56 2.5\\ 16 56 2.5\\ 20 56 4.2\\ 40 56 3.3\\ 55 56 2.5\\
25 57 2.5\\ 31 57 2.5\\ 37 57 3.3\\ 57 57 2.5\\
0 58 2.5\\ 3 58 2.5\\ 4 58 2.5\\ 5 58 3.3\\ 6 58 3.3\\ 7 58 3.3\\ 8 58 3.7\\ 21 58 5\\ 57.5 58 5\\
19 59 3.3\\ 28 59 2.5\\ 33 59 4.2\\ 38 59 5\\ 52 59 4.2\\ 55 59 3.3\\ 58.5 59 6\\
10 59.6 6\\ 17 59.6 4.2\\ 26 59.6 5\\ 27 59.6 5.5\\ 46 59.6 5\\
10 60.6 5\\ 46 60.6 3.3\\ 39.5 60.6 3.3\\ 10 61.6 2.5\\ 10 62.6 2.5\\ 39.5 62.6 2.5\\
10 72.9 3.5\\ 10 73.8 2.5\\ 28.5 71.8 2.8\\ 28.5 72.8 5\\ 28.5 73.8 3.8\\ 39.5 71.8 4.2\\ 39.5 72.8 5\\ 39.5 73.8 5\\ 39.5 75.8 2.2\\ 58.5 75.8 2.3\\
59.5 59.7 7\\
59.5 60.6 3.7\\ 60.5 60.6 3.7\\ 61.5 60.6 3.7\\ 62.5 60.6 3.7\\ 59.5 61.6 3.3\\ 62.5 61.6 3.3\\ 59.5 62.6 3.3\\ 60.5 62.6 3\\ 61.5 62.6 3\\ 62.5 62.6 3.3\\
79.5 63.7 4.2\\ 80.5 63.7 4.2\\ 79.5 65.6 4.2\\ 80.5 65.6 4.2\\ 92 63.7 6\\ 92 65.6 3.3\\ 92 68.6 2.6\\
63.5 63.7 7.7\\ 65.5 63.7 7\\ 68.5 63.7 6.4\\
63.5 64.7 3.3\\ 64.5 64.7 6.4\\ 65.5 64.7 7.7\\ 66.5 64.7 3.3\\
65.5 65.6 7.7\\ 66.5 65.6 3.3\\ 69.5 65.6 2.5\\
66.5 66.6 9\\ 69.5 66.6 3.8\\ 70.5 66.6 3.8\\
63.5 67.7 6\\ 64.5 67.7 6\\ 65.5 67.7 7\\ 67.5 67.7 2.5\\
65.5 68.6 2.5\\ 67.5 68.6 2.5\\ 68.5 68.6 9.8\\
66.5 69.7 5\\ 69.5 69.7 5\\ 70.5 69.7 5\\ 69.5 70.7 3.3\\ 70.5 70.7 3.3\\
59.5 71.7 2.5\\ 62.5 71.7 2.5\\ 67.5 71.7 2.5\\ 71.5 71.7 5\\ 72.5 71.7 5\\ 73.5 71.7 5\\ 74.5 71.7 5\\ 75.5 71.7 4.2\\
58.5 72.7 4\\ 59.5 72.7 6\\ 60.5 72.7 3.3\\ 61.5 72.7 3.3\\ 62.5 72.7 3.3\\ 63.5 72.7 3.3\\ 64.5 72.7 3.3\\ 67.5 72.7 5\\ 71.5 72.7 6.4\\ 72.5 72.7 4.2\\ 73.5 72.7 5\\ 74.5 72.7 6.4\\ 75.5 72.7 6\\
59.5 73.7 5\\ 61.5 73.7 3.3\\ 62.5 73.7 3.3\\ 67.5 73.7 4.2\\ 71.5 73.7 6.4\\ 72.5 73.7 5\\ 73.5 73.7 6\\ 74.5 73.7 6.4\\ 75.5 73.7 6.4\\
58.5 75.7 2.5\\ 67.5 75.7 2.5\\ 71.5 75.7 2.5\\ 74.5 75.7 2.5\\ 75.5 75.7 2.5\\
76.5 76.7 7.7\\ 84.5 76.7 6.4\\ 85.5 76.7 7\\ 91.5 76.7 4.2\\
81.5 79.6 3.3\\ 82.5 79.6 3.3\\ 83.5 79.6 2.5\\ 91.5 79.6 4.2\\
81.5 80.7 3.3\\ 82.5 80.7 3.3\\ 83.5 80.7 3.3\\ 91.5 80.7 5\\
79.5 81.7 3.3\\ 80.5 81.7 3.3\\ 81.5 81.7 7.7\\ 82.5 81.7 7.7\\ 83.5 81.7 6.4\\ 85.5 81.7 2.5\\ 89.5 81.7 6.4\\ 91.5 81.7 6.4\\
79.5 82.7 6.4\\ 80.5 82.7 6.4\\ 82.5 82.7 7.7\\ 83.5 82.7 4.2\\ 86.5 82.7 8.6\\ 87.5 82.7 8.6\\ 89.5 82.7 9\\ 92.5 82.7 2.5\\
79.5 83.7 4.2\\ 80.5 83.7 4.2\\ 82.5 83.7 3.3\\ 86.5 83.7 4.2\\ 87.5 83.7 4.2\\ 89.5 83.7 5\\ 92.5 83.7 2.5\\
76.5 84.7 6.4\\ 84.5 84.7 6\\ 85.5 84.7 5\\
81.5 85.7 9\\ 82.5 85.7 7.7\\ 83.5 85.7 7.7\\ 85.5 85.7 9\\ 91.5 85.7 9\\
80.5 86.7 2.5\\ 86.5 86.7 9\\ 87.5 86.7 9\\ 89.5 86.7 4.2\\
86.5 87.7 6.4\\ 87.5 87.7 6.4\\ 88.5 87.7 6\\ 90.5 87.7 5\\
76.5 88.7 2.5\\ 77.5 88.7 3.3\\ 84.5 88.7 2.5\\ 88.5 88.7 6\\ 89.5 88.7 4.2\\
79.5 89.8 2.5\\ 80.5 89.8 3.3\\ 86.5 89.8 7\\ 87.5 89.8 7\\ 89.5 89.8 6.4\\
76.5 90.7 2.5\\ 78.5 90.7 3.3\\ 80.5 90.7 3.3\\ 88.5 90.7 4.2\\
81.5 91.8 6.4\\ 82.5 91.8 6.4\\ 83.5 91.8 5\\ 85.5 91.8 2.5\\ 89.5 91.8 3.3\\ 91.5 91.8 5\\
79.5 92.8 2.7\\ 80.5 92.8 3\\ 92.5 92.8 6.4\\
93.7 93.8 9\\ 96 93.8 3.3\\ 98 93.8 6.4\\ 103 93.8 2.5\\
95 94.8 7.7\\ 97 94.8 9\\ 99 94.8 8.4\\ 100 94.8 8\\ 101 94.8 9\\ 102 94.8 7.7\\ 104 94.8 4.2\\ 105 94.8 5\\ 106 94.8 2.5\\ 108 94.8 4.2\\ 109 94.8 4.2\\
95 95.8 4.2\\ 96 95.8 4.2\\ 99 95.8 2.5\\ 101 95.8 3.3\\
97 96.9 9.8\\ 100 96.9 6.4\\ 101 96.9 3.3\\ 102 96.9 7.7\\ 104 96.9 4.2\\ 105 96.9 4.2\\ 107 96.9 3.3\\ 108 96.9 3.3\\ 109 96.9 3.3\\
98 97.9 7.7\\ 101 97.9 4.2\\
95 98.9 6.4\\ 97 98.9 3.3\\ 99 98.9 9.8\\ 100 98.9 2.5\\ 101 98.9 4.2\\ 102 98.9 4.2\\
100 99.9 4.2\\ 102 99.9 4.2\\ 104 99.9 6.4\\ 105 99.9 6.4\\ 107 99.9 6.4\\ 108 99.9 6.4\\ 109 99.9 6.4\\
97 100.9 6.4\\ 100 100.9 6.4\\ 101 100.9 9\\ 102 100.9 4.2\\ 105 100.9 2.5\\
97 101.8 4.2\\ 100 101.8 6.4\\ 102 101.8 6.4\\ 104 101.8 5\\ 105 101.8 4.2\\ 106 101.8 4.2\\ 107 101.8 4.2\\ 108 101.8 4.2\\ 109 101.8 4.2\\
103 102.9 6.4\\
104 103.9 6.4\\ 106 103.9 4.2\\ 107 103.9 5\\ 108 103.9 5\\ 109 103.9 5\\ 110 103.9 4.2\\ 112 103.9 2.5\\ 115 103.9 2.5\\
104 104.9 7\\ 106 104.9 4.2\\ 107 104.9 6.4\\ 108 104.9 6.4\\ 109 104.9 4.2\\ 113 104.9 3.3\\ 115 104.9 3.3\\
106 105.9 3.3\\
104 106.8 6.4\\ 106 106.8 3.3\\ 107 106.8 6\\ 108 106.8 6\\ 109 106.8 5\\ 110 106.8 4.2\\ 112 106.8 2.5\\ 113 106.8 2.5\\ 114 106.8 3.3\\ 115 106.8 2.5\\
106 107.9 3.3\\ 108 107.9 6.4\\ 109 107.9 4.2\\ 112 107.9 2.5\\ 113 107.9 3.3\\ 114 107.9 2.5\\ 115 107.9 3.3\\
104 108.9 6.4\\ 106 108.9 6.4\\ 107 108.9 6.4\\ 108 108.9 6.4\\ 109 108.9 7.7\\ 112 108.9 2.5\\ 113 108.9 3.3\\ 115 108.9 3.3\\
110 109.9 4.2\\ 115 109.9 2.5\\
111 110.9 9\\
112 111.9 3.3\\ 114 111.9 2.5\\
110 113 4.2\\ 112 113 6.4\\ 113 113 6.4\\ 114 113 6.4\\ 115 113 6.4\\
112 114 3.5\\ 113 114 3.5\\ 114 114 4.2\\ 115 114 3.5\\
112 115 4.2\\ 113 115 3.5\\ 114 115 3.5\\ 115 115 4.2\\
};
\end{axis}
\end{tikzpicture}
\end{document}
